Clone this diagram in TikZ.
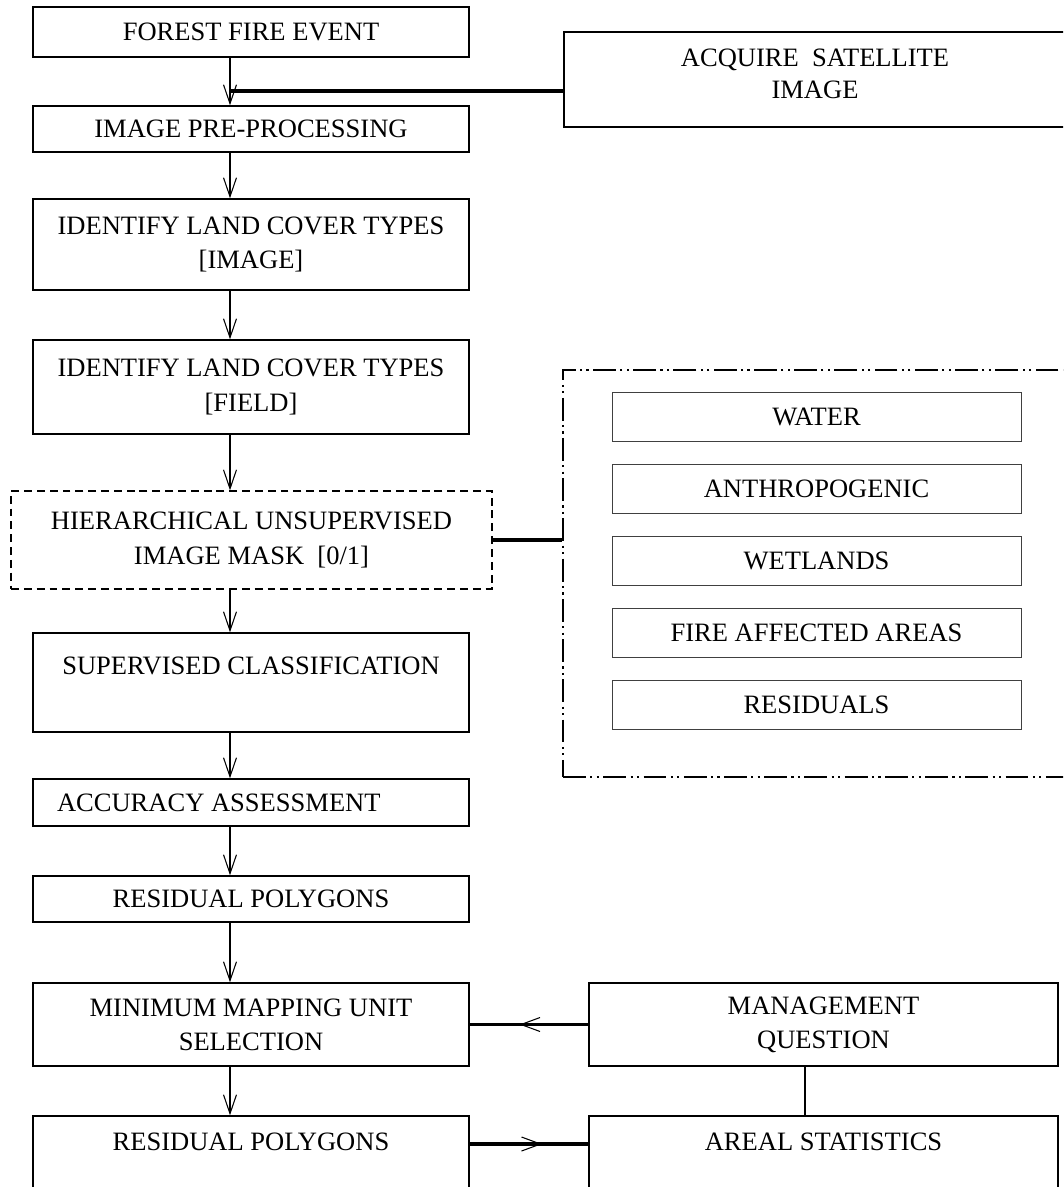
\documentclass[tikz,border=0pt]{standalone}
\usepackage{fontspec}
\setmainfont{Liberation Serif}
\usetikzlibrary{arrows.meta,decorations.markings}

\begin{document}
\begin{tikzpicture}[x = 0.02cm, y = -0.02cm, line width = 0.8pt,
                    font = \fontsize{15.1}{19.4}\selectfont,
                    box/.style = {draw, align = center, minimum width = 8.72cm},
                    sidebox/.style = {draw, align = center, minimum width = 9.38cm},
                    maskbox/.style = {draw, align = center, line width = 0.7pt,
                                      dash pattern = on 4.5pt off 2.8pt,
                                      minimum width = 9.62cm, minimum height = 1.96cm},
                    group/.style = {draw, line width = 1.1pt, minimum width = 10.14cm, minimum height = 8.14cm,
                                    dash pattern = on 13pt off 2.5pt on 1.2pt off 2.5pt on 1.2pt off 2.5pt},
                    cover/.style = {draw = black!75, line width = 0.5pt, minimum width = 8.18cm, minimum height = 0.98cm},
                    flow/.style = {-{Straight Barb[length = 0.38cm, width = 0.26cm]}, line width = 0.6pt},
                    link/.style = {line width = 2pt},
                    midarrow/.style = {postaction = {decorate, decoration = {markings,
                        mark = at position #1 with {\arrow{Straight Barb[length = 0.38cm, width = 0.28cm, line width = 0.6pt]}}}}}]
  \fill [white] (0, 0) rectangle (1063, 1187);
  \useasboundingbox (0, 0) rectangle (1063, 1187);
  \clip (0, 0) rectangle (1063, 1187);

  \coordinate (spine) at (230, 0);
  \coordinate (junction) at (230, 91);

  \node [box, minimum height = 1.0cm] (FOREST) at (251, 32){FOREST FIRE EVENT};
  \node [draw, align = center, minimum width = 10.04cm, minimum height = 1.9cm] (ACQUIRE) at (815, 79.5){ACQUIRE~~SATELLITE\\[-1.5pt]IMAGE\\[-0.45cm]~};
  \node [box, minimum height = 0.92cm] (PRE) at (251, 129){IMAGE PRE-PROCESSING};
  \node [box, minimum height = 1.82cm] (IDIMAGE) at (251, 244.5){IDENTIFY LAND COVER TYPES\\{}[IMAGE]};
  \node [box, minimum height = 1.88cm] (IDFIELD) at (251, 387){IDENTIFY LAND COVER TYPES\\{}[FIELD]};
  \node [maskbox] (HIER) at (251.5, 540){HIERARCHICAL UNSUPERVISED\\IMAGE MASK~~[0/1]};
  \node [box, minimum height = 1.98cm] (SUPER) at (251, 682.5){SUPERVISED CLASSIFICATION\\~};
  \node [box, minimum height = 0.94cm, text width = 7.76cm, align = flush left] (ACC) at (251, 802.5){ACCURACY ASSESSMENT};
  \node [box, minimum height = 0.92cm] (RES) at (251, 899){RESIDUAL POLYGONS};
  \node [box, minimum height = 1.66cm] (MMU) at (251, 1024.5){MINIMUM MAPPING UNIT\\SELECTION};
  \node [box, minimum height = 2.4cm] (RESOUT) at (251, 1176){RESIDUAL POLYGONS\\~\\~};
  \node [sidebox, minimum height = 1.66cm] (MGMT) at (823.5, 1024.5){MANAGEMENT\\QUESTION};
  \node [sidebox, minimum height = 2.4cm] (AREAL) at (823.5, 1176){AREAL STATISTICS\\~\\~};

  \node [group] (masks) at (816.5, 573.5){};
  \node [cover] (WATER) at (816.5, 416.5){WATER};
  \node [cover] (ANTHRO) at (816.5, 488.5){ANTHROPOGENIC};
  \node [cover] (WETLANDS) at (816.5, 560.5){WETLANDS};
  \node [cover] (FIRE) at (816.5, 632.5){FIRE AFFECTED AREAS};
  \node [cover] (RESID) at (816.5, 704.5){RESIDUALS};

  \draw [flow] (FOREST.south -| spine) -- (PRE.north -| spine);
  \draw [link] (junction) -- (junction -| ACQUIRE.west);
  \draw [flow] (PRE.south -| spine) -- (IDIMAGE.north -| spine);
  \draw [flow] (IDIMAGE.south -| spine) -- (IDFIELD.north -| spine);
  \draw [flow] (IDFIELD.south -| spine) -- (HIER.north -| spine);
  \draw [flow] (HIER.south -| spine) -- (SUPER.north -| spine);
  \draw [flow] (SUPER.south -| spine) -- (ACC.north -| spine);
  \draw [flow] (ACC.south -| spine) -- (RES.north -| spine);
  \draw [flow] (RES.south -| spine) -- (MMU.north -| spine);
  \draw [flow] (MMU.south -| spine) -- (RESOUT.north -| spine);
  \draw [link] (HIER.east) -- (HIER.east -| masks.west);
  \draw [link, midarrow = 0.58] (MGMT.west) -- (MMU.east);
  \draw [link, midarrow = 0.61] ([yshift = 0.64cm]RESOUT.east) -- ([yshift = 0.64cm]AREAL.west);
  \draw [line width = 0.9pt] ([xshift = -0.37cm]MGMT.south) -- ([xshift = -0.37cm]AREAL.north);
\end{tikzpicture}
\end{document}
